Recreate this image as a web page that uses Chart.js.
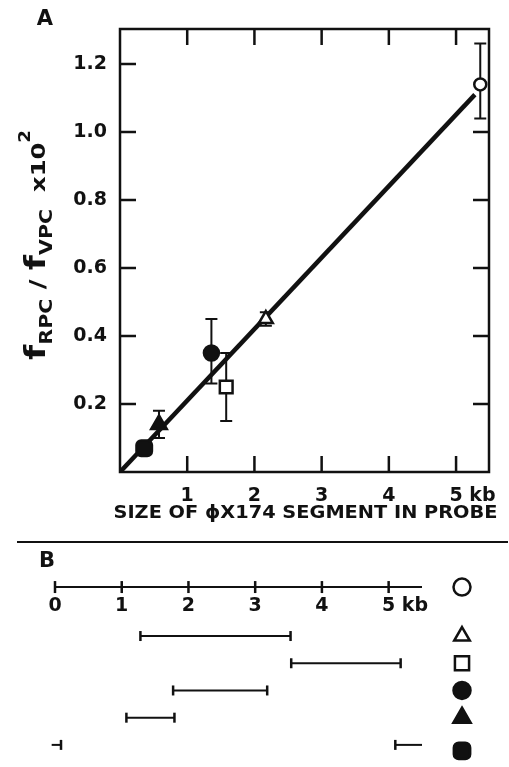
<!DOCTYPE html>
<html>
<head>
<meta charset="utf-8">
<script src="https://cdn.jsdelivr.net/npm/chart.js@4.4.1/dist/chart.umd.min.js"></script>
<style>
  html, body { margin: 0; padding: 0; background: #fff; }
  #wrap { position: relative; width: 509px; height: 767px; overflow: hidden; }
  #chartA { position: absolute; left: 0; top: 0; }
  #chartB { position: absolute; left: 0; top: 540px; }
</style>
</head>
<body>
<div id="wrap">
  <canvas id="chartA" width="509" height="540"></canvas>
  <canvas id="chartB" width="509" height="227"></canvas>
</div>
<script>
/* ── Data ─────────────────────────────────────────────────────────────── */
// Panel A: size of phiX174 segment in probe (kb) vs f_RPC / f_VPC (x10^2)
const probeSizes = [5.36, 2.17, 1.58, 1.36, 0.58, 0.36];
const ratios     = [1.14, 0.45, 0.25, 0.35, 0.14, 0.07];
const ratioLow   = [1.04, 0.43, 0.15, 0.26, 0.10, null];
const ratioHigh  = [1.26, 0.47, 0.35, 0.45, 0.18, null];

// fitted line through the origin
const fitX = [0, 5.28];
const fitY = [0, 1.11];

const xTicksA = [1, 2, 3, 4, 5];
const yTicksA = [0.2, 0.4, 0.6, 0.8, 1.0, 1.2];

// Panel B: map positions (kb) of each probe segment, one row per probe
const mapTicks = [0, 1, 2, 3, 4, 5];
const mapEnd   = 5.5;
const segStart = [1.28, 3.54, 1.77, 1.07, 5.10];
const segEnd   = [3.53, 5.18, 3.18, 1.79, 0.09];
const wrapLead = -0.05;   // where a segment crossing the origin restarts

/* ── Styles ───────────────────────────────────────────────────────────── */
const INK = "#111";
const FONT = '"DejaVu Sans", "Liberation Sans", sans-serif';
const SCALE_ROW = -0.8;

// one marker per probe, same order as the arrays above
const markers = [
  { style: "circle",      r: 6,   fill: "#fff" },
  { style: "triangle",    r: 8,   fill: "#fff" },
  { style: "rect",        r: 9,   fill: "#fff" },
  { style: "circle",      r: 7.5, fill: INK },
  { style: "triangle",    r: 9,   fill: INK },
  { style: "rectRounded", r: 9,   fill: INK },
];

/* ── Helpers ──────────────────────────────────────────────────────────── */
function textRuns(ctx, runs, x, y, fitWidth) {
  // draws [{t, size, dy}] one after another, squeezed to fitWidth
  let total = 0;
  runs.forEach((r) => {
    ctx.font = `bold ${r.size}px ${FONT}`;
    r.w = ctx.measureText(r.t).width;
    total += r.w;
  });
  const s = fitWidth / total;
  ctx.save();
  ctx.textAlign = "left";
  ctx.translate(x - fitWidth / 2, y);
  ctx.scale(s, 1);
  let cx = 0;
  runs.forEach((r) => {
    ctx.font = `bold ${r.size}px ${FONT}`;
    ctx.fillText(r.t, cx, r.dy);
    cx += r.w;
  });
  ctx.restore();
}

function kbLabels(ctx, scale, ticks, y) {
  // tick labels centred on the tick, last one followed by "kb"
  ctx.font = `bold 19px ${FONT}`;
  ctx.textBaseline = "middle";
  ticks.forEach((v, i) => {
    const px = scale.getPixelForValue(v);
    ctx.textAlign = "center";
    ctx.fillText(String(v), px, y);
    if (i === ticks.length - 1) {
      ctx.textAlign = "left";
      ctx.fillText(" kb", px + ctx.measureText(String(v)).width / 2, y);
    }
  });
}

/* ── Panel A decorations: frame, inward ticks, error bars, titles ─────── */
const panelA = {
  id: "panelA",
  beforeDatasetsDraw(chart) {
    const { ctx, scales: { x, y } } = chart;
    ctx.save();
    ctx.strokeStyle = INK;
    ctx.lineWidth = 2;
    probeSizes.forEach((v, i) => {
      if (ratioLow[i] == null) return;
      const px = x.getPixelForValue(v);
      const lo = y.getPixelForValue(ratioLow[i]);
      const hi = y.getPixelForValue(ratioHigh[i]);
      ctx.beginPath();
      ctx.moveTo(px, lo); ctx.lineTo(px, hi);
      ctx.moveTo(px - 6, lo); ctx.lineTo(px + 6, lo);
      ctx.moveTo(px - 6, hi); ctx.lineTo(px + 6, hi);
      ctx.stroke();
    });
    ctx.restore();
  },
  afterDatasetsDraw(chart) {
    const { ctx, chartArea: a, scales: { x, y } } = chart;
    ctx.save();
    ctx.strokeStyle = INK;
    ctx.fillStyle = INK;
    ctx.lineWidth = 2.5;
    ctx.strokeRect(a.left, a.top, a.right - a.left, a.bottom - a.top);

    ctx.beginPath();
    xTicksA.forEach((v) => {
      const px = x.getPixelForValue(v);
      ctx.moveTo(px, a.bottom); ctx.lineTo(px, a.bottom - 16);
      ctx.moveTo(px, a.top);    ctx.lineTo(px, a.top + 16);
    });
    yTicksA.forEach((v) => {
      const py = y.getPixelForValue(v);
      ctx.moveTo(a.left, py); ctx.lineTo(a.left + 16, py);
      if (v < 1.1) { ctx.moveTo(a.right, py); ctx.lineTo(a.right - 16, py); }
    });
    ctx.stroke();

    kbLabels(ctx, x, xTicksA, a.bottom + 24);

    // panel letter
    ctx.font = `bold 21px ${FONT}`;
    ctx.textAlign = "center";
    ctx.textBaseline = "alphabetic";
    ctx.fillText("A", 45, 25);

    // x title
    textRuns(ctx, [{ t: "SIZE OF \u03D5X174 SEGMENT IN PROBE", size: 18, dy: 0 }],
      (a.left + a.right) / 2 + 1, 518, 384);
    ctx.restore();

    // y title, rotated
    ctx.save();
    ctx.fillStyle = INK;
    ctx.translate(40, 245);
    ctx.rotate(-Math.PI / 2);
    ctx.textBaseline = "alphabetic";
    textRuns(ctx, [
      { t: "f", size: 29, dy: 5 },
      { t: "RPC", size: 17, dy: 12 },
      { t: " / ", size: 22, dy: 5 },
      { t: "f", size: 29, dy: 5 },
      { t: "VPC", size: 17, dy: 12 },
      { t: "  x10", size: 20, dy: 5 },
      { t: "2", size: 15, dy: -10 },
    ], 0, 0, 230);
    ctx.restore();
  },
};

new Chart(document.getElementById("chartA"), {
  type: "scatter",
  data: {
    datasets: [
      {
        type: "line",
        data: fitX.map((v, i) => ({ x: v, y: fitY[i] })),
        borderColor: INK,
        borderWidth: 4.5,
        pointRadius: 0,
        order: 2,
      },
      {
        data: probeSizes.map((v, i) => ({ x: v, y: ratios[i] })),
        pointStyle: markers.map((m) => m.style),
        pointRadius: markers.map((m) => m.r),
        backgroundColor: markers.map((m) => m.fill),
        borderColor: INK,
        borderWidth: 2.5,
        order: 1,
      },
    ],
  },
  options: {
    responsive: false,
    animation: false,
    events: [],
    layout: { padding: { top: 29, right: 20, left: 0, bottom: 0 } },
    plugins: { legend: { display: false }, tooltip: { enabled: false } },
    scales: {
      x: {
        type: "linear",
        min: 0,
        max: 5.49,
        grid: { display: false },
        border: { display: false },
        ticks: { stepSize: 1, includeBounds: false, display: false },
        afterFit: (s) => { s.height = 68; },
      },
      y: {
        min: 0,
        max: 1.303,
        grid: { display: false },
        border: { display: false },
        ticks: {
          stepSize: 0.2,
          includeBounds: false,
          padding: 5,
          color: INK,
          font: { family: FONT, size: 19, weight: "bold" },
          callback: (v) => (v < 0.01 ? "" : v.toFixed(1)),
        },
        afterFit: (s) => { s.width = 120; },
      },
    },
  },
  plugins: [panelA],
});

/* ── Panel B: segment map ─────────────────────────────────────────────── */
function segmentDataset(x0, x1, row, r0, r1) {
  return {
    type: "line",
    data: [{ x: x0, y: row }, { x: x1, y: row }],
    borderColor: INK,
    borderWidth: 2,
    pointStyle: "line",
    pointRotation: 90,
    pointRadius: [r0, r1],
    pointBorderWidth: 2.5,
    pointBorderColor: INK,
    clip: false,
  };
}

const segDatasets = [];
segStart.forEach((s, i) => {
  const row = i + 1;
  if (segEnd[i] >= s) {
    segDatasets.push(segmentDataset(s, segEnd[i], row, 5, 5));
  } else {
    // crosses the origin of the circular genome
    segDatasets.push(segmentDataset(s, mapEnd, row, 5, 0));
    segDatasets.push(segmentDataset(wrapLead, segEnd[i], row, 0, 5));
  }
});

const panelB = {
  id: "panelB",
  afterDatasetsDraw(chart) {
    const { ctx, chartArea: a, scales: { x, y } } = chart;
    ctx.save();
    ctx.strokeStyle = INK;
    ctx.fillStyle = INK;

    // separator between panels
    ctx.lineWidth = 2;
    ctx.beginPath();
    ctx.moveTo(17, 2); ctx.lineTo(508, 2);
    ctx.stroke();

    ctx.font = `bold 21px ${FONT}`;
    ctx.textAlign = "center";
    ctx.textBaseline = "alphabetic";
    ctx.fillText("B", 47, 27);

    // scale labels
    kbLabels(ctx, x, mapTicks, y.getPixelForValue(SCALE_ROW) + 19);

    // key symbols, one per row
    const kx = a.right + 40;
    const rows = [SCALE_ROW, 1, 2, 3, 4, 5];
    const keySize = [8.5, 9, 10, 8.5, 10, 9.5];
    markers.forEach((m, i) => {
      ctx.fillStyle = m.fill;
      ctx.strokeStyle = INK;
      ctx.lineWidth = 2.5;
      Chart.helpers.drawPoint(ctx, {
        pointStyle: m.style,
        radius: keySize[i],
        rotation: 0,
        borderWidth: 2.5,
      }, kx, y.getPixelForValue(rows[i]) + (i === 5 ? 6 : 0));
    });
    ctx.restore();
  },
};

new Chart(document.getElementById("chartB"), {
  type: "scatter",
  data: {
    datasets: [
      {
        type: "line",
        data: [{ x: 0, y: SCALE_ROW }, { x: mapEnd, y: SCALE_ROW }],
        borderColor: INK,
        borderWidth: 2,
        pointRadius: 0,
        clip: false,
      },
      {
        data: mapTicks.map((v) => ({ x: v, y: SCALE_ROW })),
        pointStyle: "line",
        pointRotation: 90,
        pointRadius: 6,
        borderColor: INK,
        borderWidth: 2.5,
        clip: false,
      },
      ...segDatasets,
    ],
  },
  options: {
    responsive: false,
    animation: false,
    events: [],
    layout: { padding: { top: 28, right: 87, left: 55, bottom: 3 } },
    plugins: { legend: { display: false }, tooltip: { enabled: false } },
    scales: {
      x: { type: "linear", min: 0, max: mapEnd, display: false },
      y: { min: -1.5, max: 5.5, reverse: true, display: false },
    },
  },
  plugins: [panelB],
});
</script>
</body>
</html>
